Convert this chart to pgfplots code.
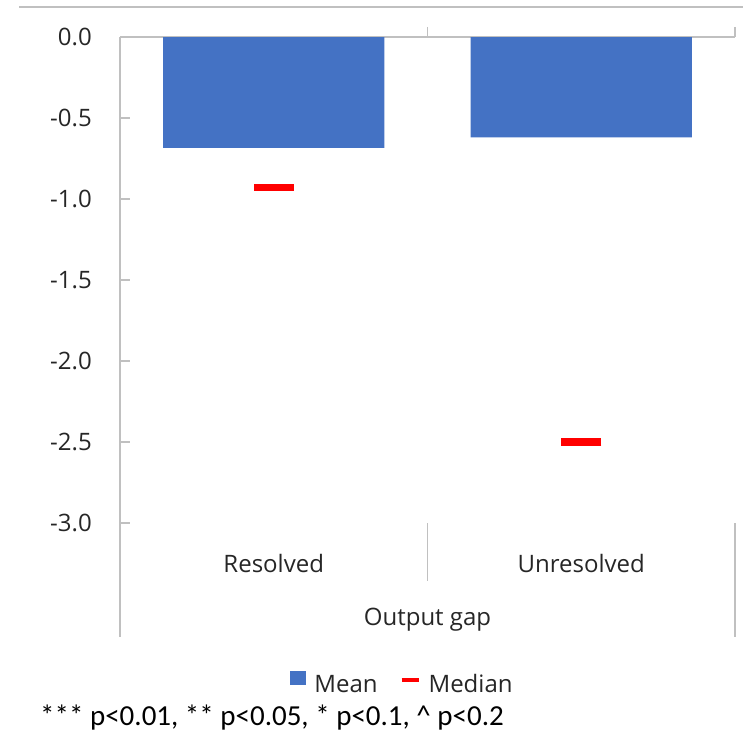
\documentclass[border=0pt]{standalone}
\usepackage{pgfplots}
\pgfplotsset{compat=1.18}
\usepackage{fontspec}
\setmainfont{Open Sans}
\newfontfamily\calibri{Carlito}
\definecolor{barblue}{HTML}{4472C4}
\definecolor{axgray}{HTML}{C0C0C0}
\definecolor{txt}{HTML}{262626}
\newcommand\cf{\fontsize{24}{29}\selectfont}
\begin{document}
\begin{tikzpicture}
\useasboundingbox (0pt,0pt) rectangle (743pt,-751pt);
\draw[axgray, line width=1.3pt] (19pt,-7pt) -- (743pt,-7pt);
\begin{axis}[
  at={(120pt,-523pt)}, anchor=south west,
  scale only axis, width=615pt, height=486pt,
  xmin=0, xmax=2, ymin=-3, ymax=0,
  axis x line*=top, axis y line*=left,
  axis line style={axgray, line width=1.3pt, -},
  tick style={axgray, line width=1.3pt},
  major tick length=10pt,
  xtick align=outside, ytick align=inside,
  xtick={1,2}, xticklabels={},
  ytick={-3,-2.5,-2,-1.5,-1,-0.5,0},
  yticklabels={-3.0,-2.5,-2.0,-1.5,-1.0,-0.5,0.0},
  y tick label style={font=\cf, text=txt, inner sep=0pt, anchor=east, xshift=-28pt},
  clip=false,
  legend style={at={(0.4577,-0.329)}, anchor=center, draw=none, fill=none,
    font=\cf, text=txt, nodes={inner sep=0pt},
    /tikz/every odd column/.append style={column sep=8pt},
    /tikz/every even column/.append style={column sep=22pt}},
  legend columns=2,
]
\addplot[ybar, bar shift=0pt, bar width=0.719, fill=barblue, draw=none,
  legend image code/.code={\fill[barblue] (0pt,-1pt) rectangle (16pt,13pt);}]
  coordinates {(0.5,-0.685) (1.5,-0.62)};
\addlegendentry{Mean}
\addplot[only marks, mark=-, mark size=20pt, mark options={line width=7.5pt, draw=red},
  legend image code/.code={\draw[red, line width=4pt] (0pt,4pt) -- (17pt,4pt);}]
  coordinates {(0.5,-0.93) (1.5,-2.5)};
\addlegendentry{Median}
\draw[axgray, line width=1.3pt] (axis cs:0,-3) -- ++(0pt,-114pt);
\draw[axgray, line width=1.3pt] (axis cs:1,-3) -- ++(0pt,-58pt);
\draw[axgray, line width=1.3pt] (axis cs:2,-3) -- ++(0pt,-114pt);
\node[font=\cf, text=txt] at ([yshift=-40pt]axis cs:0.5,-3) {Resolved};
\node[font=\cf, text=txt] at ([yshift=-40pt]axis cs:1.5,-3) {Unresolved};
\node[font=\cf, text=txt] at ([yshift=-97pt]axis cs:1,-3) {Output gap};
\end{axis}
\node[anchor=west, font=\calibri\fontsize{29}{34}\selectfont, text=black, inner sep=0pt] at (40pt,-718pt) {*** p<0.01, ** p<0.05, * p<0.1, \textasciicircum{} p<0.2};
\end{tikzpicture}
\end{document}
